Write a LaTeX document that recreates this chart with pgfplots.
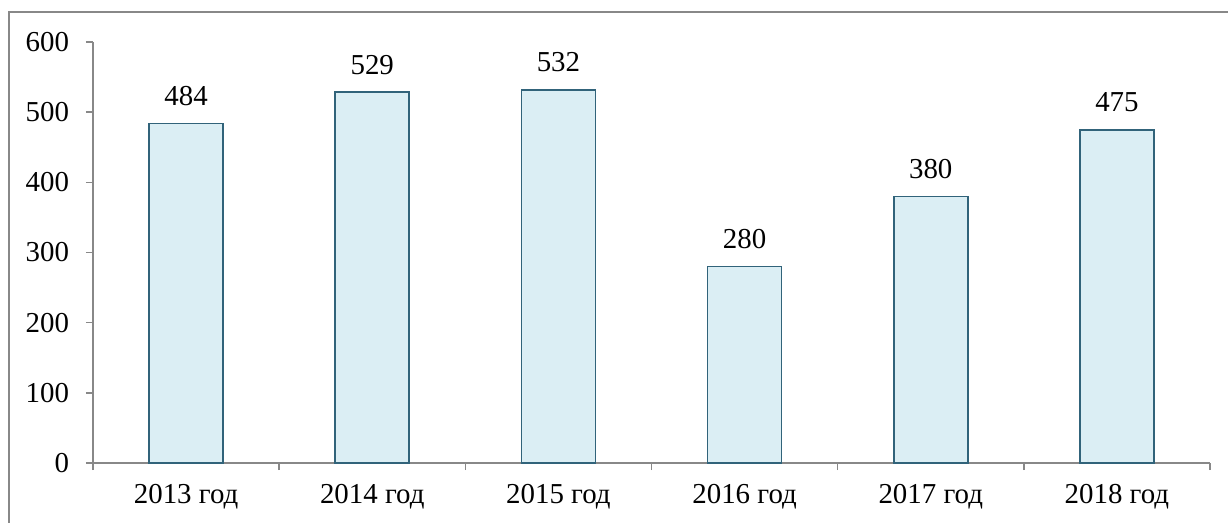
\documentclass[border=0pt]{standalone}
\usepackage{fontspec}
\setmainfont{Liberation Serif}
\usepackage{pgfplots}
\pgfplotsset{compat=1.18}
\definecolor{barfill}{HTML}{DBEEF4}
\definecolor{bardraw}{HTML}{31637A}
\definecolor{axgray}{HTML}{888888}
\newcommand{\chartfont}{\fontsize{14.5}{16}\selectfont}
\begin{document}
\chartfont
\begin{tikzpicture}
\begin{axis}[
  name=ax,
  scale only axis,
  width=558.5bp, height=210.5bp,
  xmin=-0.5, xmax=5.5,
  ymin=0, ymax=600,
  ytick={0,100,...,600},
  xtick={0,...,5},
  xticklabels={2013 год,2014 год,2015 год,2016 год,2017 год,2018 год},
  minor xtick={-0.5,0.5,...,5.5},
  major x tick style={draw=none},
  minor tick length=3.5bp,
  major tick length=3.5bp,
  tick align=outside,
  tick style={axgray, line width=0.75bp},
  axis x line*=bottom,
  axis y line*=left,
  axis line style={axgray, line width=0.75bp, -},
  /pgf/number format/assume math mode=true,
  yticklabel style={font=\chartfont, xshift=-3.5bp},
  xticklabel style={font=\chartfont, yshift=-2bp},
  ybar, bar width=37bp,
  nodes near coords,
  every node near coord/.append style={font=\chartfont, yshift=3.5bp},
]
\addplot[fill=barfill, draw=bardraw, line width=0.85bp] coordinates {(0,484) (1,529) (2,532) (3,280) (4,380) (5,475)};
\end{axis}
\pgfresetboundingbox
\path[use as bounding box] ([xshift=-46.5bp,yshift=-29.5bp]ax.south west) rectangle ([xshift=9bp,yshift=21bp]ax.north east);
\draw[axgray, line width=0.9bp] ([xshift=-42bp,yshift=-40bp]ax.south west) -- ([xshift=-42bp,yshift=15bp]ax.north west) -- ([xshift=30bp,yshift=15bp]ax.north east);
\end{tikzpicture}
\end{document}
